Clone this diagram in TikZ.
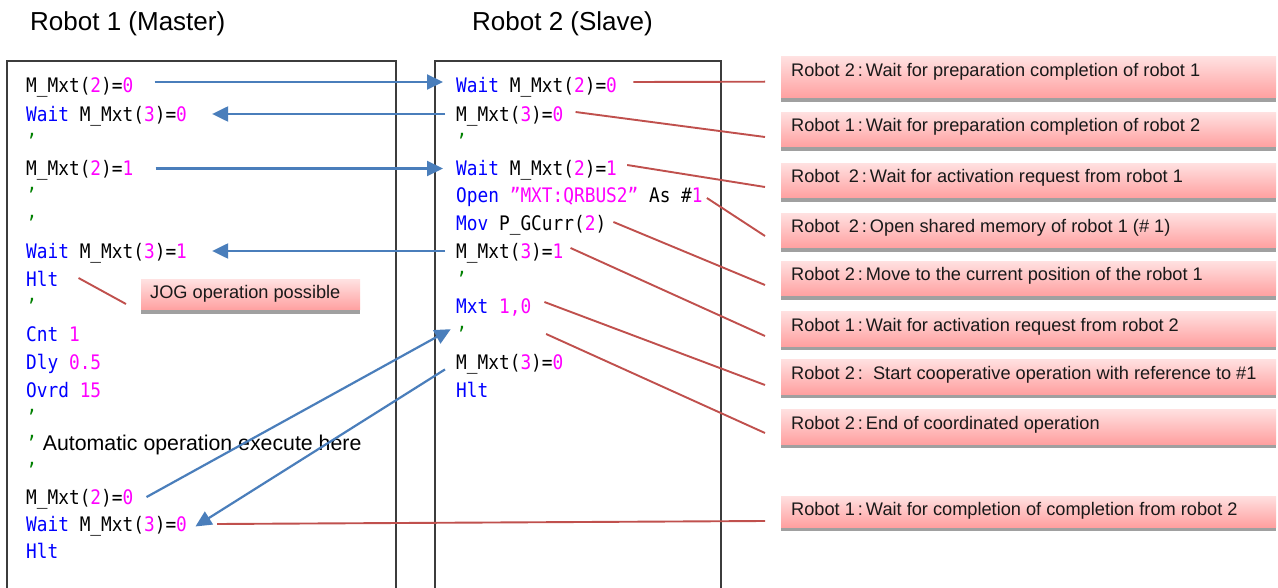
\documentclass[tikz,border=0pt]{standalone}
\usepackage{fontspec}
\setmainfont{Liberation Sans}
\newfontfamily\codefont[FakeStretch=0.89]{DejaVu Sans Mono}
\usetikzlibrary{arrows.meta,shadows}
\definecolor{kwblue}{RGB}{0,0,255}
\definecolor{nummag}{RGB}{255,0,255}
\definecolor{cmgreen}{RGB}{0,128,0}
\definecolor{arrblue}{RGB}{74,126,187}
\definecolor{linered}{RGB}{192,80,77}
\definecolor{pinktop}{RGB}{255,224,224}
\definecolor{pinkbot}{RGB}{255,160,160}
\definecolor{shadowgray}{RGB}{160,160,160}
\definecolor{framegray}{RGB}{60,60,60}
\newcommand{\kwd}[1]{\textcolor{kwblue}{#1}}
\newcommand{\nmb}[1]{\textcolor{nummag}{#1}}
\newcommand{\cmt}{\textcolor{cmgreen}{’}}
\newcommand{\annbox}[1]{\makebox[475pt][l]{#1}}
\newcommand{\cln}{\kern3pt:\kern3pt}
\begin{document}
\begin{tikzpicture}[x=1pt,y=-1pt,
  code/.style={anchor=base west, inner sep=0pt, text height=15pt, text depth=0pt,
    font=\codefont\fontsize{20}{22}\selectfont},
  titletext/.style={anchor=base west, inner sep=0pt, font=\fontsize{26}{30}\selectfont},
  ann/.style={anchor=base west, inner xsep=10pt, inner ysep=0pt, text height=19.5pt,
    text depth=15pt, font=\fontsize{18.2}{22}\selectfont, text=black!90,
    top color=pinktop, bottom color=pinkbot,
    drop shadow={shadow xshift=0pt,shadow yshift=-4pt,fill=shadowgray,opacity=1}},
  frame/.style={draw=framegray, line width=1.2pt},
  bluearr/.style={draw=arrblue, line width=2.2pt, -{Triangle[length=16pt,width=15pt]}},
  redln/.style={draw=linered, line width=1.9pt}]
\fill[white] (0,0) rectangle (1278,588);
\useasboundingbox (0,0) rectangle (1278,588);

% titles
\node[titletext] (t1) at (30,31) {Robot 1 (Master)};
\node[titletext] (t2) at (472,31) {Robot 2 (Slave)};

% frames
\draw[frame] (7,589) -- (7,61) -- (396,61) -- (396,589);
\draw[frame] (435,589) -- (435,61) -- (721,61) -- (721,589);

% robot 1 code
\node[code] (a0) at (26,93) {M\_Mxt(\nmb{2})=\nmb{0}};
\node[code] (a1) at (26,121.5) {\kwd{Wait} M\_Mxt(\nmb{3})=\nmb{0}};
\node[code] (a2) at (26,149) {\cmt};
\node[code] (a3) at (26,176) {M\_Mxt(\nmb{2})=\nmb{1}};
\node[code] (a4) at (26,203) {\cmt};
\node[code] (a5) at (26,231) {\cmt};
\node[code] (a6) at (26,258.5) {\kwd{Wait} M\_Mxt(\nmb{3})=\nmb{1}};
\node[code] (a7) at (26,286.5) {\kwd{Hlt}};
\node[code] (a8) at (26,314) {\cmt};
\node[code] (a9) at (26,341.5) {\kwd{Cnt} \nmb{1}};
\node[code] (a10) at (26,370) {\kwd{Dly} \nmb{0.5}};
\node[code] (a11) at (26,397) {\kwd{Ovrd} \nmb{15}};
\node[code] (a12) at (26,424) {\cmt};
\node[code] (a13) at (26,450) {\cmt\hspace{6pt}{\rmfamily\fontsize{21.3}{24}\selectfont Automatic operation execute here}};
\node[code] (a14) at (26,477) {\cmt};
\node[code] (a15) at (26,504) {M\_Mxt(\nmb{2})=\nmb{0}};
\node[code] (a16) at (26,531.5) {\kwd{Wait} M\_Mxt(\nmb{3})=\nmb{0}};
\node[code] (a17) at (26,558.3) {\kwd{Hlt}};

% robot 2 code
\node[code] (b0) at (456,93) {\kwd{Wait} M\_Mxt(\nmb{2})=\nmb{0}};
\node[code] (b1) at (456,121.5) {M\_Mxt(\nmb{3})=\nmb{0}};
\node[code] (b2) at (456,149) {\cmt};
\node[code] (b3) at (456,176) {\kwd{Wait} M\_Mxt(\nmb{2})=\nmb{1}};
\node[code] (b4) at (456,203) {\kwd{Open} \nmb{”MXT:QRBUS2”} As \#\nmb{1}};
\node[code] (b5) at (456,231) {\kwd{Mov} P\_GCurr(\nmb{2})};
\node[code] (b6) at (456,258.5) {M\_Mxt(\nmb{3})=\nmb{1}};
\node[code] (b7) at (456,286.5) {\cmt};
\node[code] (b8) at (456,313.5) {\kwd{Mxt} \nmb{1,0}};
\node[code] (b9) at (456,341.5) {\cmt};
\node[code] (b10) at (456,370) {M\_Mxt(\nmb{3})=\nmb{0}};
\node[code] (b11) at (456,397) {\kwd{Hlt}};

% annotations
\node[ann, text height=20pt, text depth=21pt] (n1) at (781,77) {\annbox{Robot 2\cln Wait for preparation completion of robot 1}};
\node[ann] (n2) at (781,132) {\annbox{Robot 1\cln Wait for preparation completion of robot 2}};
\node[ann] (n3) at (781,183) {\annbox{Robot\kern4pt\ 2\cln Wait for activation request from robot 1}};
\node[ann] (n4) at (781,233) {\annbox{Robot\kern4pt\ 2\cln Open shared memory of robot 1 (\# 1)}};
\node[ann] (n5) at (781,281) {\annbox{Robot 2\cln Move to the current position of the robot 1}};
\node[ann] (n6) at (781,331) {\annbox{Robot 1\cln Wait for activation request from robot 2}};
\node[ann] (n7) at (781,379) {\annbox{Robot 2\kern3pt:~~Start cooperative operation with reference to \#1}};
\node[ann] (n8) at (781,429) {\annbox{Robot 2\cln End of coordinated operation}};
\node[ann, text height=19pt, text depth=12pt] (n9) at (781,515) {\annbox{Robot 1\cln Wait for completion of completion from robot 2}};
\node[ann, text height=19pt, text depth=11pt, inner xsep=9pt] (jog) at (141,299) {\makebox[201pt][l]{JOG operation possible}};

% blue arrows
\draw[bluearr, shorten <=21pt, shorten >=13pt] ([yshift=3.5pt]a0.east) -- ([yshift=3.5pt]b0.west);
\draw[bluearr, shorten <=11pt, shorten >=25pt] (b1.west) -- (a1.east);
\draw[bluearr, shorten <=22pt, shorten >=13pt] (a3.east) -- (b3.west);
\draw[bluearr, shorten <=11pt, shorten >=25pt] (b6.west) -- (a6.east);
\draw[bluearr, shorten <=14.8pt, shorten >=6pt] (a15.south east) -- (b9.north west);
\draw[bluearr, shorten <=13pt, shorten >=9.8pt] (b10.west) -- (a16.south east);

% red leader lines
\draw[redln] ([xshift=16.3pt,yshift=3.5pt]b0.east) -- ([xshift=-16pt,yshift=-4.2pt]n1.west);
\draw[redln] ([xshift=12pt,yshift=2pt]b1.east) -- ([xshift=-16pt,yshift=-7.25pt]n2.west);
\draw[redln] ([xshift=10pt,yshift=3.5pt]b3.east) -- ([xshift=-16pt,yshift=-6.25pt]n3.west);
\draw[redln] ([xshift=4pt,yshift=-2.5pt]b4.east) -- ([xshift=-16pt,yshift=-5.25pt]n4.west);
\draw[redln] ([xshift=7pt,yshift=1.5pt]b5.east) -- ([xshift=-16pt,yshift=-6.25pt]n5.west);
\draw[redln] ([xshift=7pt,yshift=3pt]b6.east) -- ([xshift=-16pt,yshift=-7.25pt]n6.west);
\draw[redln] ([xshift=13pt,yshift=4pt]b8.east) -- ([xshift=-16pt,yshift=-8.25pt]n7.west);
\draw[redln] ([xshift=79pt]b9.east) -- ([xshift=-16pt,yshift=-6.25pt]n8.west);
\draw[redln] ([xshift=30pt]a16.east) -- ([xshift=-16pt,yshift=-9.5pt]n9.west);
\draw[redln] ([xshift=20pt,yshift=1pt]a7.east) -- ([xshift=-15pt,yshift=-9pt]jog.west);
\end{tikzpicture}
\end{document}
